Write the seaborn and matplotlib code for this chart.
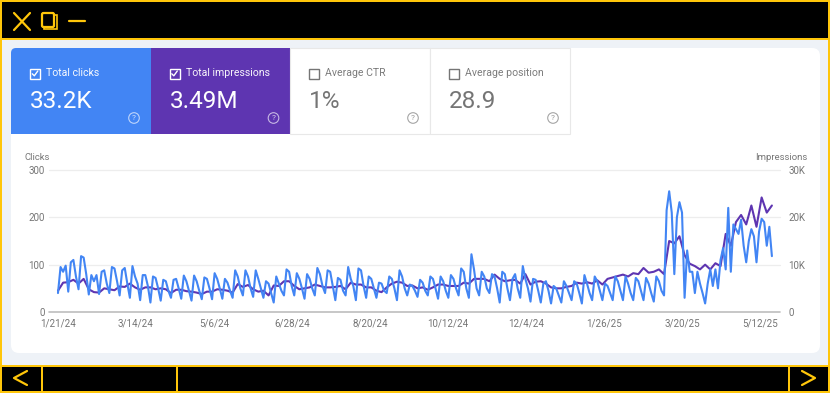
import matplotlib
matplotlib.use('Agg')
import matplotlib.pyplot as plt
from matplotlib.patches import Rectangle, FancyBboxPatch, Circle
import pandas as pd
import seaborn as sns

### Values ###
tile_titles = ['Total clicks', 'Total impressions', 'Average CTR', 'Average position']
tile_values = ['33.2K', '3.49M', '1%', '28.9']
clicks_ticks = [0, 100, 200, 300]
impressions_ticks = [0, 10000, 20000, 30000]
clicks_tick_labels = ['0', '100', '200', '300']
impressions_tick_labels = ['0', '10K', '20K', '30K']
date_labels = ['1/21/24', '3/14/24', '5/6/24', '6/28/24', '8/20/24', '10/12/24',
               '12/4/24', '1/26/25', '3/20/25', '5/12/25']

clicks = [
    40, 95, 85, 98, 43, 105, 110, 75, 48, 118, 115, 80, 37, 78, 65, 78,
    38, 85, 88, 60, 40, 95, 92, 65, 35, 88, 93, 60, 30, 97, 75, 60,
    25, 78, 78, 55, 20, 75, 72, 50, 24, 68, 65, 45, 30, 68, 70, 50,
    28, 77, 65, 45, 24, 77, 65, 45, 27, 73, 70, 50, 27, 82, 70, 50,
    28, 70, 62, 45, 30, 88, 75, 50, 35, 88, 75, 50, 32, 88, 70, 50,
    30, 65, 60, 40, 20, 75, 60, 45, 35, 90, 85, 55, 35, 82, 70, 50,
    28, 80, 70, 50, 35, 93, 80, 55, 40, 88, 85, 55, 25, 72, 68, 45,
    35, 95, 70, 55, 25, 92, 88, 55, 30, 75, 70, 50, 30, 62, 60, 45,
    40, 75, 70, 50, 25, 88, 75, 50, 35, 58, 55, 45, 32, 68, 62, 45,
    35, 75, 70, 50, 28, 75, 65, 45, 30, 78, 70, 50, 35, 92, 85, 50,
    30, 122, 90, 50, 35, 85, 75, 50, 40, 80, 75, 50, 20, 85, 80, 50,
    25, 70, 80, 50, 30, 97, 70, 50, 22, 70, 68, 45, 20, 60, 65, 45,
    18, 55, 50, 35, 20, 65, 55, 40, 25, 65, 60, 40, 18, 78, 60, 40,
    25, 75, 65, 45, 25, 60, 55, 40, 25, 75, 65, 45, 25, 75, 60, 40,
    25, 72, 65, 45, 25, 72, 60, 40, 22, 75, 65, 45,
    35, 215, 255, 210, 80, 200, 232, 210, 30, 130, 85, 85, 40, 85, 60, 40,
    18, 60, 90, 55, 90, 50, 110, 135, 90, 220, 85, 185, 175, 165, 195, 140,
    105, 150, 175, 160, 105, 170, 197, 190, 140, 180, 118,
]

impressions = [
    4500, 6200, 6300, 6800, 6000, 7000, 4800, 4200, 4100, 5000,
    4800, 4600, 5400, 5300, 6000, 5200, 4700, 5200, 5200, 4800,
    5000, 4800, 4000, 4700, 4700, 4400, 4300, 4100, 3800, 4300,
    4300, 4800, 4700, 4500, 4100, 5900, 5300, 5700, 4800, 4300,
    4500, 3500, 5600, 5500, 6500, 6500, 5500, 4800, 5000, 5200,
    5800, 5500, 5200, 5200, 5300, 5500, 4800, 6200, 5800, 5800,
    5200, 5200, 4500, 4200, 5200, 6000, 6400, 6200, 5500, 5600,
    5000, 5200, 4700, 5200, 5800, 5800, 5500, 5500, 5500, 6200,
    6000, 7000, 7000, 7000, 6500, 7900, 7000, 6500, 6700, 6800,
    6000, 8000, 5800, 6400, 6500, 6000, 5200, 5000, 5000, 5300,
    5500, 6200, 6000, 6300, 6000, 6700, 5800, 7000, 7300, 7600,
    7900, 7500, 8200, 8000, 9300, 8300, 8500, 9000, 8000, 15000,
    14500, 16000, 12000, 10200, 9700, 9000, 10000, 9000, 10300, 9700,
    16500, 14000, 19000, 20500, 18500, 22500, 18000, 24200, 21000, 22500,
]

YELLOW = '#FFC60A'
BLUE = '#4285F4'
PURPLE = '#5E35B1'
GREY = '#757575'

sns.set_theme(style='white')
plt.rcParams['font.family'] = ['Roboto', 'DejaVu Sans']

fig = plt.figure(figsize=(8.3, 3.93), dpi=100)

## Page furniture, drawn in pixel coordinates of the screenshot ##
bg = fig.add_axes([0, 0, 1, 1])
bg.set_xlim(0, 830)
bg.set_ylim(393, 0)
bg.axis('off')

bg.add_patch(Rectangle((0, 0), 830, 393, fc='#EEF2F7', ec='none'))
bg.add_patch(FancyBboxPatch((18, 55), 795, 291, boxstyle='round,pad=0,rounding_size=1', fc='white', ec='none'))
bg.add_patch(FancyBboxPatch((11, 48), 809, 305, boxstyle='round,pad=0,rounding_size=8', fc='white', ec='none'))
bg.add_patch(Rectangle((0, 0), 830, 39, fc='black', ec='none'))
bg.add_patch(Rectangle((0, 365), 830, 28, fc='black', ec='none'))
for x, y, w, h in [(0, 0, 830, 2), (0, 38, 830, 2), (0, 0, 2, 393), (828, 0, 2, 393),
                   (0, 365, 830, 2), (0, 391, 830, 2), (41, 365, 1.5, 28),
                   (176, 365, 1.5, 28), (788, 365, 1.5, 28)]:
    bg.add_patch(Rectangle((x, y), w, h, fc=YELLOW, ec='none'))

# window icons
bg.plot([14, 30], [13, 30], color=YELLOW, lw=1.6)
bg.plot([30, 14], [13, 30], color=YELLOW, lw=1.6)
bg.add_patch(Rectangle((44, 15), 13, 14, fc='none', ec=YELLOW, lw=1.2))
bg.add_patch(FancyBboxPatch((42, 13), 12, 14, boxstyle='round,pad=0,rounding_size=1.5', fc='black', ec=YELLOW, lw=1.6))
bg.plot([69, 85], [21, 21], color=YELLOW, lw=1.6)
bg.plot([27, 14, 27], [371, 378, 385], color=YELLOW, lw=1.6)
bg.plot([802, 815, 802], [371, 378, 385], color=YELLOW, lw=1.6)

# metric tiles
tile_x = [11, 150.5, 290, 430]
tile_w = [139.5, 139.5, 140, 140]
for i in range(4):
    if i == 0:
        bg.add_patch(FancyBboxPatch((11, 48), 139.5, 86, boxstyle='round,pad=0,rounding_size=5', fc=BLUE, ec='none'))
        bg.add_patch(Rectangle((100, 48), 50.5, 86, fc=BLUE, ec='none'))
        bg.add_patch(Rectangle((11, 90), 30, 44, fc=BLUE, ec='none'))
    elif i == 1:
        bg.add_patch(Rectangle((tile_x[i], 48), tile_w[i], 86, fc=PURPLE, ec='none'))
    else:
        bg.add_patch(Rectangle((tile_x[i], 48), tile_w[i], 86, fc='white', ec='#E8E8E8', lw=0.8))
    on = i < 2
    fg = 'white' if on else GREY
    bx = tile_x[i] + 19
    bg.add_patch(Rectangle((bx, 68.5), 10, 10, fc='none', ec=fg, lw=1.0))
    if on:
        bg.plot([bx + 2.3, bx + 4.3, bx + 7.8], [73.8, 75.8, 71], color=fg, lw=1.0)
    bg.text(bx + 16, 73.5, tile_titles[i], color=fg, fontsize=7.6, va='center', ha='left', alpha=0.95)
    bg.text(bx, 101, tile_values[i], color=fg, fontsize=17.5, va='center', ha='left')
    bg.add_patch(Circle((tile_x[i] + 123, 118), 5.3, fc='none', ec=fg, lw=0.8, alpha=0.65))
    bg.text(tile_x[i] + 123, 118.2, '?', color=fg, fontsize=6, va='center', ha='center', alpha=0.75)

## Chart ##
dates_clicks = pd.date_range('2024-01-21', '2025-05-20', periods=len(clicks))
dates_impressions = pd.date_range('2024-01-21', '2025-05-20', periods=len(impressions))
df_clicks = pd.DataFrame({'date': dates_clicks, 'clicks': clicks})
df_impressions = pd.DataFrame({'date': dates_impressions, 'impressions': impressions})

ax = fig.add_axes([49 / 830, 1 - 312 / 393, 731 / 830, 142 / 393])
ax2 = ax.twinx()
sns.lineplot(data=df_impressions, x='date', y='impressions', ax=ax2, color=PURPLE, lw=1.5, errorbar=None)
sns.lineplot(data=df_clicks, x='date', y='clicks', ax=ax, color=BLUE, lw=1.5, errorbar=None)
ax.set_zorder(ax2.get_zorder() + 1)
ax.patch.set_visible(False)

tick_dates = pd.to_datetime(date_labels, format='%m/%d/%y')
ax.set_xlim(pd.Timestamp('2024-01-21') - pd.Timedelta(days=6.1), pd.Timestamp('2024-01-21') + pd.Timedelta(days=490.5))
ax.set_ylim(0, 300)
ax2.set_ylim(0, 30000)
ax.set_xticks(tick_dates)
ax.set_xticklabels(date_labels)
ax.set_yticks(clicks_ticks)
ax.set_yticklabels(clicks_tick_labels)
ax2.set_yticks(impressions_ticks)
ax2.set_yticklabels(impressions_tick_labels)
ax.set_xlabel('')
ax.set_ylabel('')
ax2.set_xlabel('')
ax2.set_ylabel('')
ax.tick_params(axis='both', length=0, labelsize=7, labelcolor=GREY, pad=5)
ax.tick_params(axis='y', pad=3)
ax2.tick_params(axis='y', length=0, labelsize=7, labelcolor=GREY, pad=6)

for a in (ax, ax2):
    for side in a.spines:
        a.spines[side].set_visible(False)
ax2.grid(False)
ax.grid(False)
for v in clicks_ticks[1:]:
    ax2.axhline(v * 100, color='#EDEDED', lw=0.9, zorder=0, clip_on=False)
ax2.axhline(0, color='#BDBDBD', lw=1.2, zorder=0, clip_on=False)

bg.text(24, 157, 'Clicks', color=GREY, fontsize=6.8, va='center', ha='left')
bg.text(807, 157, 'Impressions', color=GREY, fontsize=6.8, va='center', ha='right')

fig.savefig('out.png', dpi=100)
